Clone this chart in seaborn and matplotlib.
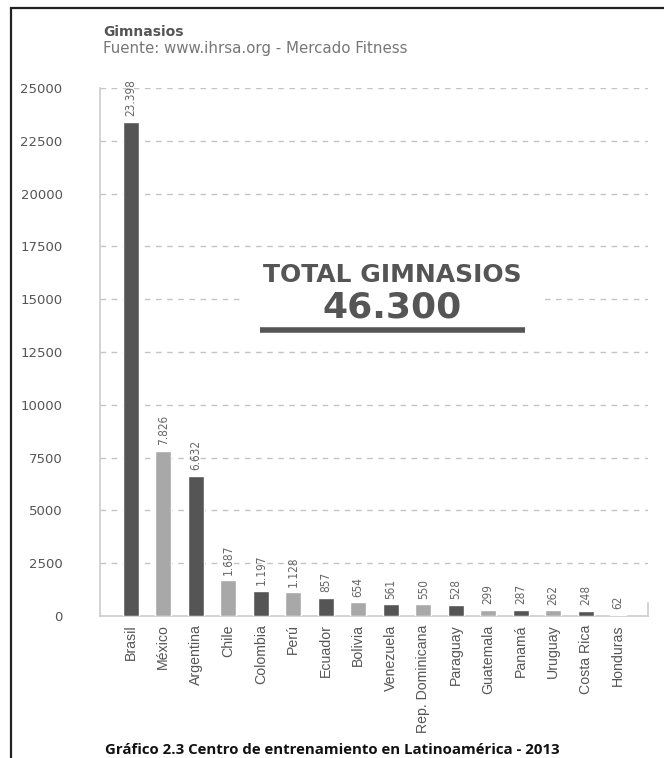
import matplotlib
matplotlib.use("Agg")
import matplotlib.pyplot as plt
from matplotlib.patches import Rectangle
import seaborn as sns

# Gym counts per country, 2013
countries = ["Brasil", "México", "Argentina", "Chile", "Colombia", "Perú",
             "Ecuador", "Bolivia", "Venezuela", "Rep. Dominicana", "Paraguay",
             "Guatemala", "Panamá", "Uruguay", "Costa Rica", "Honduras"]
gyms = [23398, 7826, 6632, 1687, 1197, 1128, 857, 654, 561, 550, 528,
        299, 287, 262, 248, 62]
y_ticks = [0, 2500, 5000, 7500, 10000, 12500, 15000, 17500, 20000, 22500, 25000]
total_label = "46.300"

DARK = "#555555"
LIGHT = "#a8a8a8"
bar_colors = [DARK if i % 2 == 0 else LIGHT for i in range(len(countries))]

sns.set_theme(style="white")
plt.rcParams["font.family"] = ["DejaVu Sans"]

fig = plt.figure(figsize=(6.64, 7.58), dpi=100)
ax = fig.add_axes([100 / 664, 1 - 616 / 758, 548 / 664, 528 / 758])

sns.barplot(x=countries, y=gyms, hue=countries, palette=bar_colors,
            width=0.5, legend=False, saturation=1, ax=ax, zorder=3)

ax.set_ylim(0, 25000)
ax.set_xlim(-0.95, 15.92)
ax.set_yticks(y_ticks)
ax.set_yticklabels([str(t) for t in y_ticks], color="#555555", fontsize=9.5)
ax.tick_params(axis="y", length=0, pad=27)
ax.tick_params(axis="x", length=0, pad=6)
for lab in ax.get_xticklabels():
    lab.set_rotation(90)
    lab.set_color("#555555")
    lab.set_fontsize(10.2)
    lab.set_family(["Liberation Sans", "DejaVu Sans"])

# dashed horizontal grid
for t in y_ticks[1:]:
    ax.axhline(t, color="#c4c4c4", lw=1, ls=(0, (4, 4)), zorder=1)

ax.spines["top"].set_visible(False)
for s in ["left", "bottom", "right"]:
    ax.spines[s].set_color("#cccccc")
    ax.spines[s].set_linewidth(1.2)
ax.spines["right"].set_bounds(0, 600)

# value labels above each bar
for i, v in enumerate(gyms):
    txt = f"{v:,}".replace(",", ".")
    ax.annotate(txt, (i, v), xytext=(0, 4), textcoords="offset points",
                rotation=90, ha="center", va="bottom", fontsize=8.5,
                color="#666666", fontstretch="condensed", zorder=4)

# total annotation box
ax.add_patch(Rectangle((0.255, 0.523), 0.557, 0.147, transform=ax.transAxes,
                       facecolor="white", edgecolor="none", zorder=2))
ax.text(0.533, 0.645, "TOTAL GIMNASIOS", transform=ax.transAxes,
        ha="center", va="center", fontsize=18, fontweight="bold",
        color="#555555", zorder=5)
ax.text(0.533, 0.584, total_label, transform=ax.transAxes,
        ha="center", va="center", fontsize=26, fontweight="bold",
        color="#555555", zorder=5)
ax.plot([0.292, 0.776], [0.542, 0.542], transform=ax.transAxes,
        color="#555555", lw=4, solid_capstyle="butt", zorder=5)

# header and caption
fig.text(103 / 664, 1 - 32 / 758, "Gimnasios", fontsize=10,
         fontweight="bold", color="#555555", va="center", ha="left")
fig.text(103 / 664, 1 - 49 / 758, "Fuente: www.ihrsa.org - Mercado Fitness",
         fontsize=10.8, color="#777777", va="center", ha="left")
fig.text(0.5, 1 - 750 / 758,
         "Gráfico 2.3 Centro de entrenamiento en Latinoamérica - 2013",
         fontsize=10.8, fontweight="bold", color="#111111", va="center",
         ha="center", family=["Open Sans", "DejaVu Sans"])

# outer frame
fig.patches.append(Rectangle((11 / 664, -0.1), 1.2, 1 - 8 / 758 + 0.1,
                             transform=fig.transFigure, fill=False,
                             edgecolor="#222222", lw=1.6))

fig.savefig("out.png", dpi=100)
